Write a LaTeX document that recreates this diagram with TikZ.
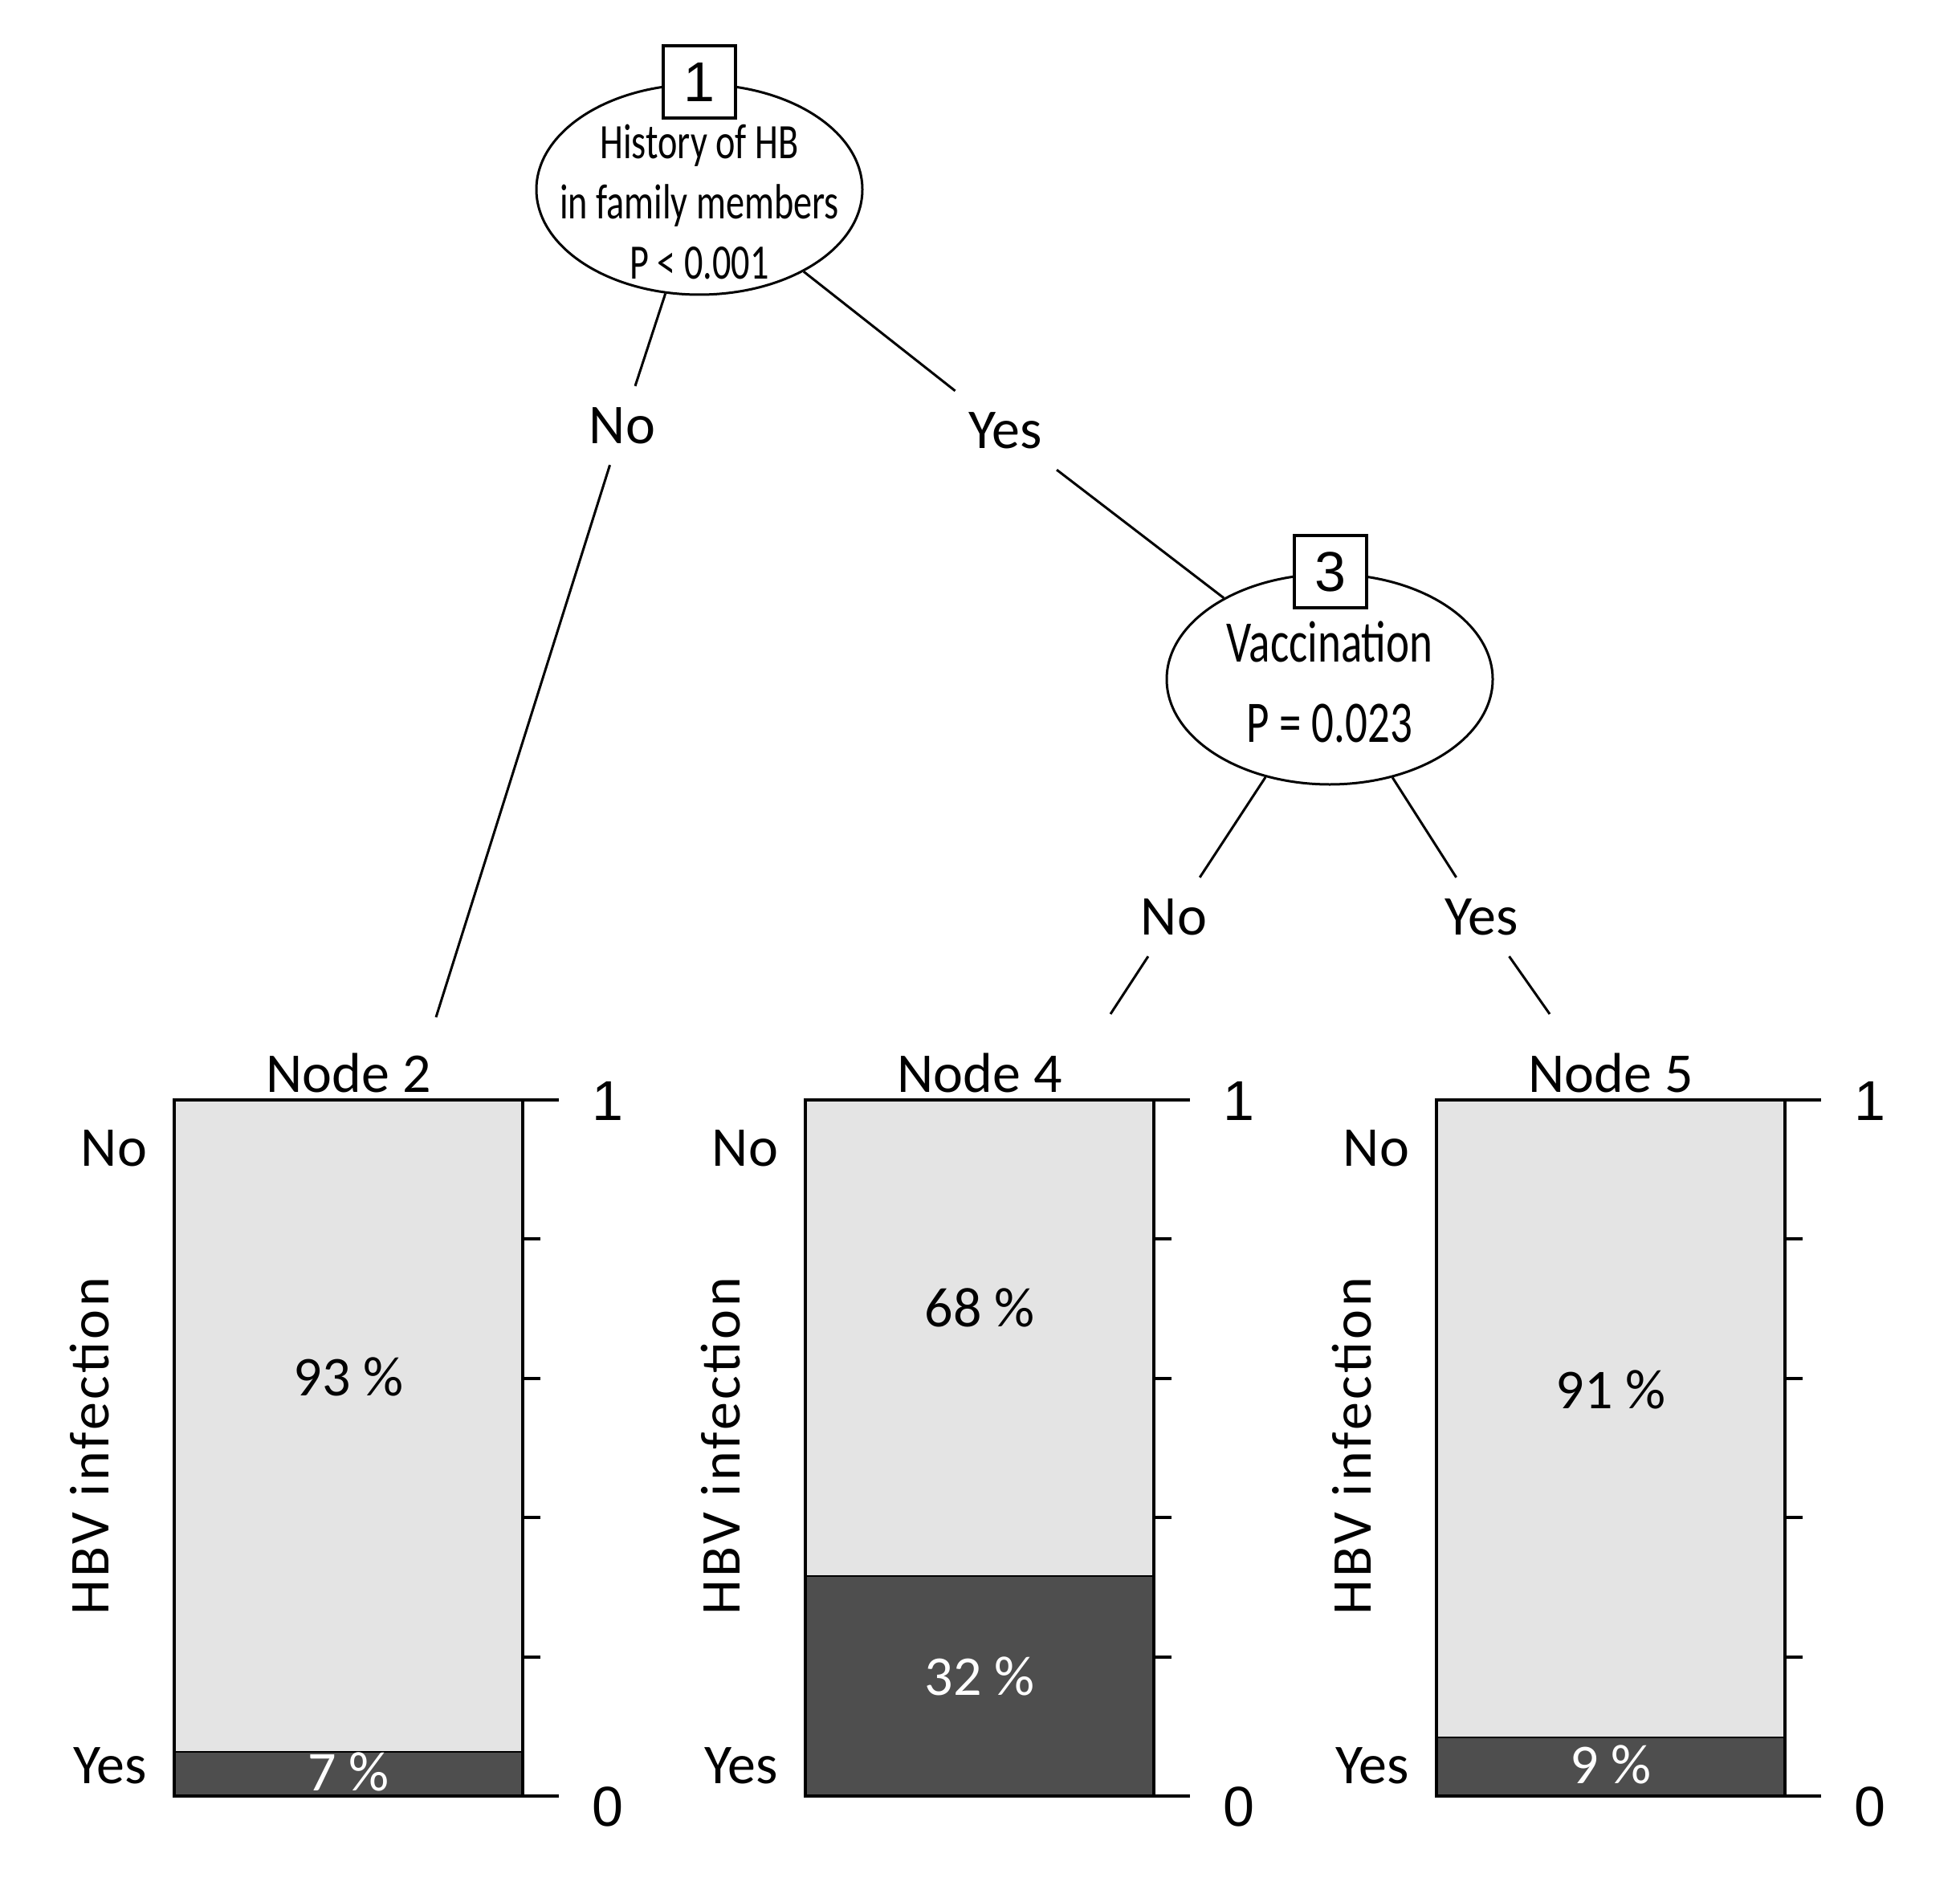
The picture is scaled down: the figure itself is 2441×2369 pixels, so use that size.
\documentclass[tikz,border=0pt]{standalone}
\usepackage{fontspec}
\setmainfont{Carlito}
\newfontfamily\condfont[FakeStretch=0.75]{Carlito}
\newfontfamily\digitfont{Liberation Sans}
\usepackage{tikz}
\usetikzlibrary{shapes.geometric}

\definecolor{lightbar}{HTML}{E4E4E4}
\definecolor{darkbar}{HTML}{4E4E4E}

\tikzset{
  split/.style={ellipse, draw, line width=0.9pt, minimum width=121.8pt, minimum height=78.6pt, inner sep=0pt},
  splitid/.style={draw, fill=white, line width=1.1pt, minimum size=27pt, inner sep=0pt, font=\digitfont\fontsize{21}{21}\selectfont},
  branch/.style={inner sep=0pt, outer sep=0pt, minimum height=29.5pt, font=\fontsize{21}{21}\selectfont},
  edge/.style={line width=0.9pt},
  txt/.style={inner sep=0pt, font=\fontsize{21}{21}\selectfont}
}

\begin{document}
\begin{tikzpicture}[x=0.3pt, y=-0.3pt]
    \useasboundingbox (0,0) rectangle (2441,2369);

    % Draw inner splits
    \node[split] (n1) at (871,236) {};
    \node[align=center, inner sep=0pt, font=\condfont\fontsize{18.5}{22.5}\selectfont] (n1txt) at (871,252)
      {History of HB\\in family members\\P < 0.001};
    \node[splitid] (id1) at (871,102) {1};

    \node[split] (n3) at (1656,846) {};
    \node[align=center, inner sep=0pt, font=\condfont\fontsize{22}{30}\selectfont] (n3txt) at (1656,849)
      {Vaccination\\P = 0.023};
    \node[splitid] (id3) at (1657,712) {3};

    % Branch labels and ends
    \node[branch] (no1) at (775,530) {No};
    \node[branch, minimum width=39pt] (yes1) at (1252,536) {Yes};
    \node[branch] (no3) at (1462,1142) {No};
    \node[branch] (yes3) at (1845,1142) {Yes};
    \coordinate (end2) at (543,1267);
    \coordinate (end4) at (1383,1263);
    \coordinate (end5) at (1930,1263);

    \draw[edge] (n1) -- (no1);
    \draw[edge] (no1) -- (end2);
    \draw[edge] (n1) -- (yes1);
    \draw[edge] (yes1) -- (n3);
    \draw[edge] (n3) -- (no3);
    \draw[edge] (no3) -- (end4);
    \draw[edge] (n3) -- (yes3);
    \draw[edge] (yes3) -- (end5);

    % Terminal nodes
    \foreach \n/\xl/\ys/\pa/\ya/\pb/\yb in {2/217/2182/93/1715/7/2207, 4/1003/1963/68/1629/32/2088, 5/1789/2164/91/1731/9/2198} {
      % Draw stacked bar
      \fill[lightbar] (\xl,1370) rectangle (\xl+434,\ys);
      \fill[darkbar] (\xl,\ys) rectangle (\xl+434,2237);
      \draw[line width=0.6pt] (\xl,\ys) -- (\xl+434,\ys);
      \draw[line width=1.2pt] (\xl,1370) rectangle (\xl+434,2237);

      % Draw scale on the right
      \draw[line width=1.2pt] (\xl+434,1370) -- (\xl+479,1370);
      \draw[line width=1.2pt] (\xl+434,2237) -- (\xl+479,2237);
      \foreach \k in {1,...,4}
        \draw[line width=1.2pt] (\xl+434,1370+173.4*\k) -- (\xl+456,1370+173.4*\k);
      \node[inner sep=0pt, font=\digitfont\fontsize{21}{21}\selectfont] (top\n) at (\xl+540,1371) {1};
      \node[inner sep=0pt, font=\digitfont\fontsize{21}{21}\selectfont] (bot\n) at (\xl+540,2250) {0};

      % Labels
      \node[txt, anchor=base] (title\n) at (\xl+217,1360) {Node \n};
      \node[txt] (no\n) at (\xl-75,1430) {No};
      \node[txt] (yes\n) at (\xl-80,2199) {Yes};
      \node[txt, rotate=90, anchor=south, font=\fontsize{21}{21}\selectfont\addfontfeature{LetterSpace=5}] (hbv\n) at (\xl-80,1801) {HBV infection};
      \node[txt] (pa\n) at (\xl+217,\ya) {\pa\ \%};
      \node[txt, text=white] (pb\n) at (\xl+217,\yb) {\pb\ \%};
    }

  \end{tikzpicture}
\end{document}
